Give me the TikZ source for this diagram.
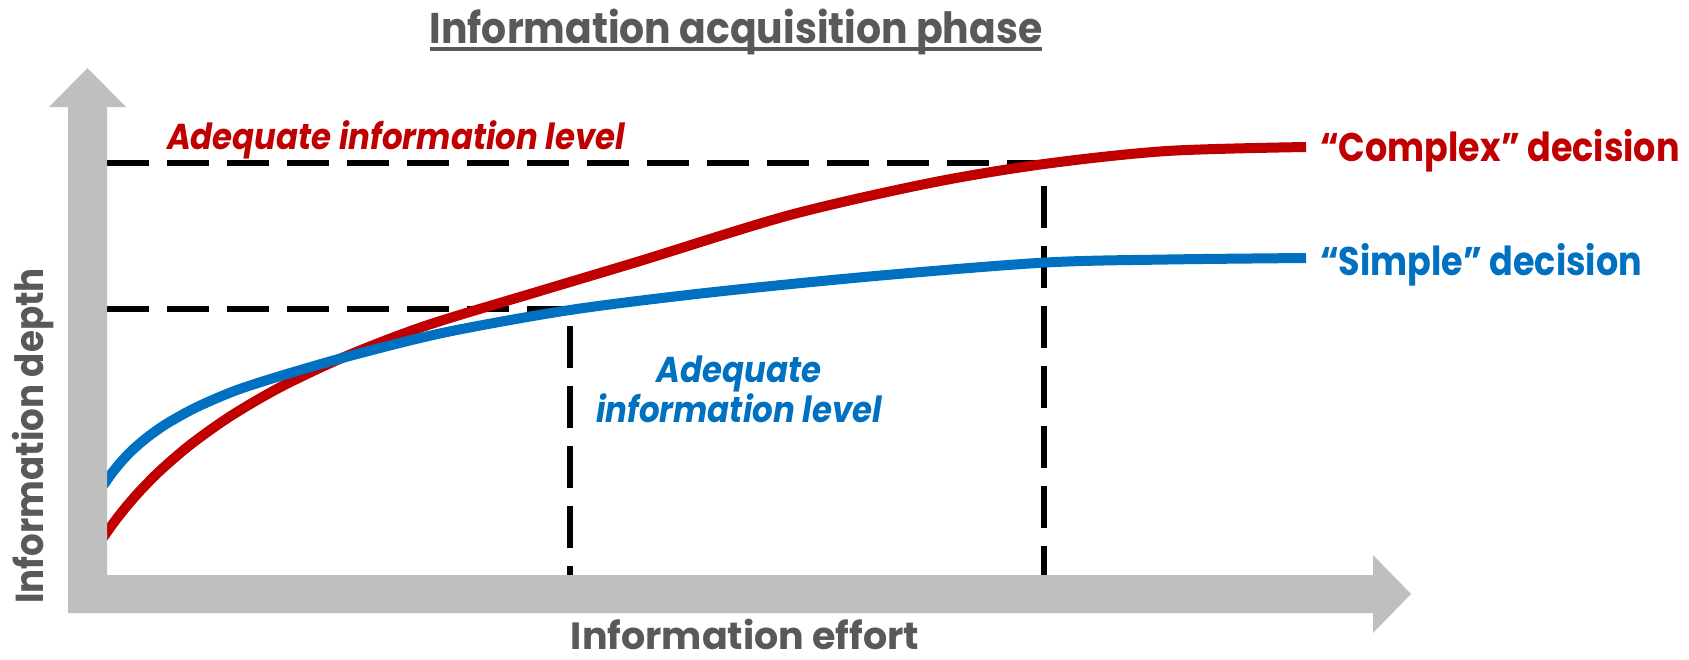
\documentclass[tikz,border=0pt]{standalone}
\usepackage{fontspec}
\setmainfont{Poppins}
\definecolor{cred}{HTML}{C00000}
\definecolor{cblue}{HTML}{0070C0}
\definecolor{cgray}{HTML}{BFBFBF}
\definecolor{ctext}{HTML}{595959}
\begin{document}
\begin{tikzpicture}[x=1pt,y=-1pt,
  txt/.style={inner sep=0pt, outer sep=0pt},
  dsh/.style={line width=5.5pt, black, dash pattern=on 42pt off 18pt},
  crv/.style={line width=10pt, line cap=butt}]
\useasboundingbox (0,0) rectangle (1689,659);
% dashed guides
\coordinate (lo0) at (107,309);
\coordinate (lo1) at (570,309);
\coordinate (lo2) at (570,575);
\coordinate (hi0) at (107,163);
\coordinate (hi1) at (1044,163);
\coordinate (hi2) at (1044,575);
\draw[dsh] (lo0) -- (lo1) -- (lo2);
\draw[dsh] (hi0) -- (hi1) -- (hi2);
% curves
\draw[crv, cred] plot[smooth, tension=0.5] coordinates {(100,542) (107,532) (112,525) (119,515.7) (129,503.4) (142,488.8) (162,468.9) (192,443.4) (232,415.2) (282,386.3) (347,355.8) (427,325.3) (540,291) (640,261) (790,215) (930,183) (1044,164) (1167,151) (1306,147)};
\draw[crv, cblue] plot[smooth, tension=0.5] coordinates {(100,490) (107,480) (110,475.7) (115,469.2) (122,460.8) (132,450.4) (147,437.5) (167,423.5) (197,407) (237,390) (287,374) (357,354) (447,332) (570,310) (707,292.8) (873,276.2) (1044,262.6) (1167,259.5) (1306,258)};
% axes (one L-shaped double arrow)
\fill[cgray] (49,107) -- (87.5,68) -- (126,107) -- (107,107) -- (107,575)
  -- (1373,575) -- (1373,555) -- (1411,594) -- (1373,633) -- (1373,613)
  -- (68,613) -- (68,107) -- cycle;
% texts
\node[txt, text=ctext, font=\fontsize{43}{48}\selectfont\bfseries, anchor=base] (title) at (736,43) {\scalebox{0.915}[1]{Information acquisition phase}};
\draw[ctext, line width=3.5pt] ([yshift=-6pt]title.base west) -- ([yshift=-6pt]title.base east);
\node[txt, text=cred, font=\fontsize{36}{40}\selectfont\bfseries\itshape, anchor=base west] (redlvl) at (167,149) {\scalebox{0.9}[1]{Adequate information level}};
\node[txt, text=cred, font=\fontsize{40}{44}\selectfont\bfseries, anchor=base west] (cplx) at (1320,161) {\scalebox{0.874}[1]{“Complex” decision}};
\node[txt, text=cblue, font=\fontsize{40}{44}\selectfont\bfseries, anchor=base west] (smpl) at (1320,275) {\scalebox{0.874}[1]{“Simple” decision}};
\node[txt, text=cblue, font=\fontsize{36}{40}\selectfont\bfseries\itshape, anchor=base] (bluelvl) at (739,382) {\scalebox{0.9}[1]{\begin{tabular}[t]{@{}c@{}}Adequate\\information level\end{tabular}}};
\node[txt, text=ctext, text depth=0pt, font=\fontsize{38}{44}\selectfont\bfseries, anchor=base] (xlab) at (745,649) {Information effort};
\node[txt, text=ctext, font=\fontsize{39}{44}\selectfont\bfseries, anchor=base, rotate=90] (ylab) at (43,436) {\scalebox{0.914}[1]{Information depth}};
\end{tikzpicture}
\end{document}
